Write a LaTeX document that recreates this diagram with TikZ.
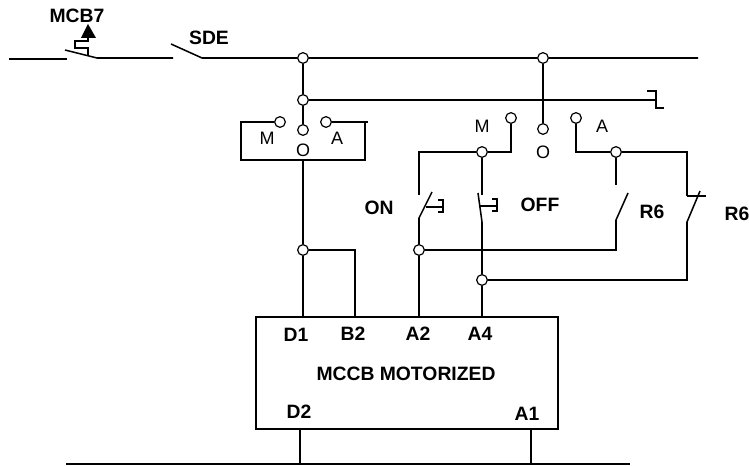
\documentclass[tikz,border=0pt]{standalone}
\usepackage{fontspec}
\setmainfont{Liberation Sans}
\tikzset{
  term/.style={draw, circle, fill=white, inner sep=0pt, minimum size=8pt, line width=0.9pt},
  wire/.style={line width=1.15pt},
  lbl/.style={font=\fontsize{14.5}{14.5}\selectfont\bfseries, inner sep=0pt},
  poslbl/.style={font=\fontsize{13.5}{13.5}\selectfont, inner sep=0pt},
}
\begin{document}
\begin{tikzpicture}[x=0.75pt, y=-0.75pt]
    \useasboundingbox (0,0) rectangle (749,466);
    % labels
    \node[lbl] (mcb) at (77,16) {MCB7};
    \node[lbl] (sde) at (209,38) {SDE};
    \node[lbl] (on) at (379,208) {ON};
    \node[lbl] (off) at (540,205) {OFF};
    \node[lbl] (r6a) at (652,212) {R6};
    \node[lbl] (r6b) at (737,214) {R6};
    \node[poslbl] (m1) at (267,138) {M};
    \node[poslbl] (a1t) at (337,138) {A};
    \node[poslbl] (o1) at (303,150) {O};
    \node[poslbl] (m2) at (482,126) {M};
    \node[poslbl] (a2t) at (602,126) {A};
    \node[poslbl] (o2) at (543,152) {O};
    % main box
    \node[draw, line width=1.15pt, minimum width=226.5pt, minimum height=84pt, inner sep=0pt] (mccb) at (407,373) {};
    \node[lbl] (mtitle) at (406,374) {MCCB MOTORIZED};
    \node[lbl] (d1) at (296,335) {D1};
    \node[lbl] (b2) at (353,334) {B2};
    \node[lbl] (a2) at (418,334) {A2};
    \node[lbl] (a4) at (480,334) {A4};
    \node[lbl] (d2) at (299,412) {D2};
    \node[lbl] (a1) at (527,414) {A1};
    % terminals
    \node[term] (top1) at (303,58) {};
    \node[term] (top2) at (543,58) {};
    \node[term] (sel1) at (303,100) {};
    \node[term] (com1) at (303,130) {};
    \node[term] (man1) at (280,122) {};
    \node[term] (aut1) at (326,122) {};
    \node[term] (com2) at (543,129) {};
    \node[term] (man2) at (511,118) {};
    \node[term] (aut2) at (576,118) {};
    \node[term] (jm) at (482,152) {};
    \node[term] (ja) at (616,152) {};
    \node[term] (jon) at (419,250) {};
    \node[term] (joff) at (482,280) {};
    \node[term] (jd) at (303,250) {};
    % top line
    \draw[wire] (9,59) -- (67,59);
    \draw[wire] (65,50) -- (97,58) -- (173,58);
    \draw[wire] (171,44) -- (202,58) -- (top1) -- (top2) -- (698,58);
    \draw[wire] (88,55) -- (88,48) -- (75,48) -- (75,41) -- (88,41) -- (88,36);
    \fill (88,24) -- (96,38) -- (81,38) -- cycle;
    % selector 1
    \draw[wire] (top1) -- (sel1);
    \draw[wire] (sel1) -- (com1);
    \draw[wire] (sel1) -- (655,100);
    \draw[wire] (647,91) -- (656,91) -- (656,108) -- (664,108);
    \draw[wire] (man1) -- (241,122) -- (241,160) -- (365,160) -- (365,122);
    \draw[wire] (aut1) -- (368,122);
    \draw[wire] (303,160) -- (jd);
    \draw[wire] (jd) -- (303,317);
    \draw[wire] (jd) -- (355,250) -- (355,317);
    % selector 2
    \draw[wire] (top2) -- (com2);
    \draw[wire] (man2) -- (511,152) -- (jm);
    \draw[wire] (jm) -- (419,152) -- (419,195);
    \draw[wire] (aut2) -- (576,152) -- (ja);
    \draw[wire] (ja) -- (687,152) -- (687,196);
    \draw[wire] (ja) -- (616,185);
    \draw[wire] (jm) -- (482,195);
    % ON
    \draw[wire] (432,192) -- (419,218) -- (jon);
    \draw[wire] (jon) -- (419,317);
    \draw[wire] (426,207) -- (443,207);
    \draw[wire] (438,200) -- (443,200) -- (443,212) -- (438,212);
    % OFF
    \draw[wire] (478,193) -- (482,222) -- (joff);
    \draw[wire] (joff) -- (482,317);
    \draw[wire] (480,206) -- (497,206);
    \draw[wire] (492,199) -- (497,199) -- (497,211) -- (492,211);
    % R6
    \draw[wire] (628,193) -- (616,220) -- (616,250) -- (jon);
    \draw[wire] (687,196) -- (706,196);
    \draw[wire] (700,191) -- (687,222) -- (687,280) -- (joff);
    % bottom
    \draw[wire] (66,464) -- (630,464);
    \draw[wire] (300,429) -- (300,464);
    \draw[wire] (531,429) -- (531,464);
\end{tikzpicture}
\end{document}
